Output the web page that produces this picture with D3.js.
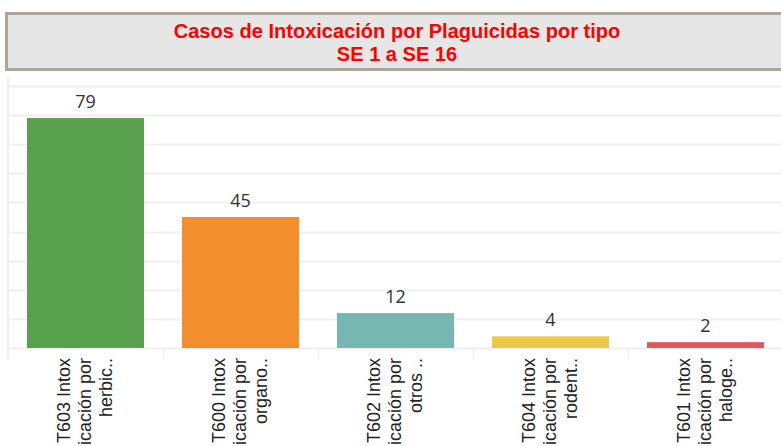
<!DOCTYPE html>
<html>
<head>
<meta charset="utf-8">
<script src="https://cdn.jsdelivr.net/npm/d3@7"></script>
<style>
  html, body { margin: 0; padding: 0; background: #fff; overflow: hidden; }
  svg { display: block; }
</style>
</head>
<body>
<div id="chart"></div>
<script>
  // chart data
  var titleLines = ['Casos de Intoxicación por Plaguicidas por tipo', 'SE 1 a SE 16'];
  var categories = ['T603', 'T600', 'T602', 'T604', 'T601'];
  var labelLines = [
    ['T603 Intox', 'icación por', 'herbic..'],
    ['T600 Intox', 'icación por', 'organo..'],
    ['T602 Intox', 'icación por', 'otros ..'],
    ['T604 Intox', 'icación por', 'rodent..'],
    ['T601 Intox', 'icación por', 'haloge..']
  ];
  var values = [79, 45, 12, 4, 2];
  var colors = ['#59a14f', '#f28e2b', '#76b7b2', '#edc948', '#e15759'];
  var gridTicks = [0, 10, 20, 30, 40, 50, 60, 70, 80, 90];

  var width = 781, height = 446;
  var plotLeft = 8, plotRight = 783, plotTop = 77, plotBottom = 348;

  var svg = d3.select('#chart').append('svg')
    .attr('width', width)
    .attr('height', height);

  // title box
  svg.append('rect')
    .attr('x', 6.5).attr('y', 13.5)
    .attr('width', 790).attr('height', 56)
    .attr('fill', '#e6e6e6')
    .attr('stroke', '#aba698')
    .attr('stroke-width', 3);

  // slightly condensed bold title, like Arial Narrow
  svg.append('g')
    .attr('transform', 'translate(397,0) scale(0.955,1)')
    .selectAll('text')
    .data(titleLines)
    .enter().append('text')
    .attr('x', 0)
    .attr('y', function(d, i) { return 38 + i * 23; })
    .attr('text-anchor', 'middle')
    .attr('fill', '#ff0000')
    .style('font-family', '"Liberation Sans", Arial, sans-serif')
    .style('font-weight', 'bold')
    .style('font-size', '21px')
    .text(function(d) { return d; });

  var x = d3.scaleBand()
    .domain(categories)
    .range([plotLeft, plotLeft + 155 * categories.length])
    .paddingInner(0.245)
    .paddingOuter(0.1225);

  var y = d3.scaleLinear()
    .domain([0, 93.1])
    .range([plotBottom, plotTop]);

  // gridlines
  svg.append('g')
    .selectAll('line')
    .data(gridTicks)
    .enter().append('line')
    .attr('x1', plotLeft).attr('x2', plotRight)
    .attr('y1', function(d) { return Math.round(y(d)) + 0.5; })
    .attr('y2', function(d) { return Math.round(y(d)) + 0.5; })
    .attr('stroke', '#efefef')
    .attr('stroke-width', 2);

  // left border
  svg.append('line')
    .attr('x1', plotLeft).attr('x2', plotLeft)
    .attr('y1', plotTop).attr('y2', 358)
    .attr('stroke', '#eeeeee')
    .attr('stroke-width', 2);

  // column separators
  svg.append('g')
    .selectAll('line')
    .data(d3.range(1, categories.length))
    .enter().append('line')
    .attr('x1', function(d) { return plotLeft + 155 * d + 0.5; })
    .attr('x2', function(d) { return plotLeft + 155 * d + 0.5; })
    .attr('y1', plotBottom).attr('y2', 358)
    .attr('stroke', '#eeeeee')
    .attr('stroke-width', 1.5);

  // bars
  svg.append('g')
    .selectAll('rect')
    .data(values)
    .enter().append('rect')
    .attr('x', function(d, i) { return x(categories[i]); })
    .attr('y', function(d) { return y(d); })
    .attr('width', x.bandwidth())
    .attr('height', function(d) { return y(0) - y(d); })
    .attr('fill', function(d, i) { return colors[i]; });

  // value labels
  svg.append('g')
    .selectAll('text')
    .data(values)
    .enter().append('text')
    .attr('x', function(d, i) { return x(categories[i]) + x.bandwidth() / 2; })
    .attr('y', function(d) { return y(d) - 10; })
    .attr('text-anchor', 'middle')
    .attr('fill', '#333333')
    .style('font-family', '"Open Sans", sans-serif')
    .style('font-size', '18px')
    .text(function(d) { return d; });

  // category labels (rotated, three lines each)
  var lab = svg.append('g')
    .selectAll('g')
    .data(labelLines)
    .enter().append('g')
    .attr('transform', function(d, i) {
      var cx = x(categories[i]) + x.bandwidth() / 2;
      return 'translate(' + cx + ',358) rotate(-90)';
    });

  lab.selectAll('text')
    .data(function(d) { return d; })
    .enter().append('text')
    .attr('x', 0)
    .attr('y', function(d, j) { return (j - 1) * 21 + 5.5; })
    .attr('text-anchor', 'end')
    .attr('fill', '#222222')
    .style('font-family', '"Liberation Sans", Arial, sans-serif')
    .style('font-size', '18px')
    .text(function(d) { return d; });
</script>
</body>
</html>
